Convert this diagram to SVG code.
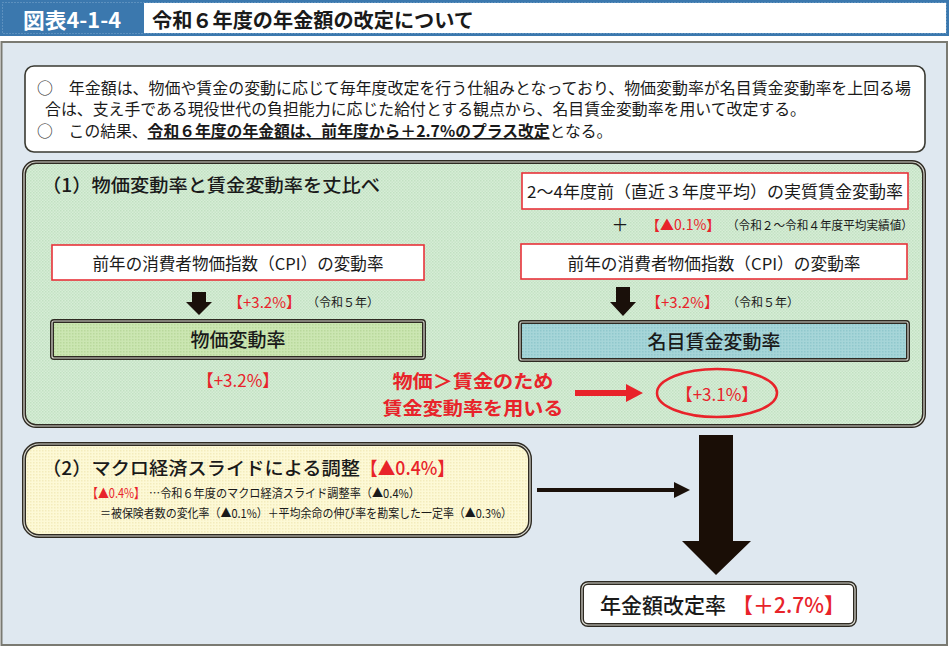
<svg xmlns="http://www.w3.org/2000/svg" width="949" height="647" viewBox="0 0 949 647">
<defs>
<style>
text{font-family:"Noto Sans CJK JP","Noto Sans",sans-serif;fill:#1a1a1a}
.red{fill:#e8232a}
.b{font-weight:bold}
.m{font-weight:500}
.whitebox{fill:#ffffff;stroke:#e8323a;stroke-width:1.6}
.dbl-out{fill:none;stroke:#2e2a22;stroke-width:4}
.dbl-in{fill:none;stroke:#d8d8d0;stroke-width:1.2}
</style>
<pattern id="pg" width="3" height="3" patternUnits="userSpaceOnUse">
<rect width="3" height="3" fill="#d6eed6"/>
<rect width="1.5" height="1.5" fill="#c2e0c2"/>
<rect x="1.5" y="1.5" width="1.5" height="1.5" fill="#c8e3c8"/>
</pattern>
<pattern id="py" width="3" height="3" patternUnits="userSpaceOnUse">
<rect width="3" height="3" fill="#fdf9d6"/>
<rect width="1.5" height="1.5" fill="#f3ecbc"/>
</pattern>
<pattern id="pgb" width="3" height="3" patternUnits="userSpaceOnUse">
<rect width="3" height="3" fill="#cbe6b2"/>
<rect width="1.5" height="1.5" fill="#b9d99c"/>
</pattern>
<pattern id="ptb" width="3" height="3" patternUnits="userSpaceOnUse">
<rect width="3" height="3" fill="#a6d5d8"/>
<rect width="1.5" height="1.5" fill="#90c8cc"/>
</pattern>
</defs>

<!-- header -->
<g id="header">
<rect x="0" y="0" width="949" height="36" fill="#3b78ae"/>
<rect x="2.5" y="2.5" width="944" height="31" fill="none" stroke="#7fa9cf" stroke-width="1" stroke-dasharray="1,2"/>
<rect x="144" y="3" width="802" height="30" fill="#ffffff"/>
<text x="23" y="27.5" font-size="21" class="b" style="fill:#ffffff" textLength="98" lengthAdjust="spacingAndGlyphs">図表4-1-4</text>
<text x="152" y="27.5" font-size="20" class="b" textLength="322" lengthAdjust="spacingAndGlyphs">令和６年度の年金額の改定について</text>
</g>

<!-- main panel -->
<rect x="1.5" y="42" width="945.5" height="603" fill="#dfe8f0" stroke="#7a7a72" stroke-width="2"/>

<!-- intro text box -->
<g id="intro">
<rect x="25" y="66" width="900" height="86" rx="9" fill="#ffffff" stroke="#3a3a32" stroke-width="1.6"/>
<text x="37" y="94" font-size="15.8" textLength="874" lengthAdjust="spacingAndGlyphs">○　年金額は、物価や賃金の変動に応じて毎年度改定を行う仕組みとなっており、物価変動率が名目賃金変動率を上回る場</text>
<text x="45" y="115" font-size="15.8" textLength="761" lengthAdjust="spacingAndGlyphs">合は、支え手である現役世代の負担能力に応じた給付とする観点から、名目賃金変動率を用いて改定する。</text>
<text x="37" y="137" font-size="15.8">○　この結果、<tspan class="b" text-decoration="underline">令和６年度の年金額は、前年度から＋2.7%のプラス改定</tspan>となる。</text>
</g>

<!-- section 1 -->
<g id="section1">
<rect x="24" y="162" width="900" height="264" rx="12" fill="url(#pg)"/>
<rect x="24" y="162" width="900" height="264" rx="12" class="dbl-out"/>
<rect x="24" y="162" width="900" height="264" rx="12" class="dbl-in"/>
<text x="42" y="192" font-size="18.5" class="m" textLength="338" lengthAdjust="spacingAndGlyphs">（1）物価変動率と賃金変動率を丈比べ</text>
</g>

<g id="cpi-left">
<rect x="52" y="245" width="372" height="35" class="whitebox"/>
<text x="238" y="270" font-size="16.5" text-anchor="middle" textLength="291" lengthAdjust="spacingAndGlyphs">前年の消費者物価指数（CPI）の変動率</text>
</g>
<g id="cpi-left-label">
<text x="228" y="307.5" font-size="15" class="red">【+3.2%】</text>
<text x="307" y="307" font-size="12">（令和５年）</text>
</g>
<g id="price-rate">
<rect x="52" y="321" width="372" height="37" rx="2" fill="url(#pgb)"/>
<rect x="52" y="321" width="372" height="37" rx="2" class="dbl-out" stroke-width="3"/>
<rect x="52" y="321" width="372" height="37" rx="2" class="dbl-in" stroke-width="0.8"/>
<text x="238" y="347" font-size="19" class="m" text-anchor="middle">物価変動率</text>
</g>
<g id="price-rate-value">
<text x="238" y="386.5" font-size="17" class="red" text-anchor="middle">【+3.2%】</text>
</g>

<g id="real-wage">
<rect x="522" y="173" width="386" height="36" class="whitebox"/>
<text x="715" y="198" font-size="16.5" text-anchor="middle" textLength="376" lengthAdjust="spacingAndGlyphs">2～4年度前（直近３年度平均）の実質賃金変動率</text>
</g>
<g id="real-wage-label">
<text x="620" y="231" font-size="17" text-anchor="middle">＋</text>
<text x="646" y="230" font-size="14" class="red">【▲0.1%】</text>
<text x="727" y="229.5" font-size="12" textLength="186" lengthAdjust="spacingAndGlyphs">（令和２～令和４年度平均実績値）</text>
</g>
<g id="cpi-right">
<rect x="521" y="244" width="386" height="35" class="whitebox"/>
<text x="714" y="270" font-size="16.5" text-anchor="middle" textLength="293" lengthAdjust="spacingAndGlyphs">前年の消費者物価指数（CPI）の変動率</text>
</g>
<g id="cpi-right-label">
<text x="646" y="307.5" font-size="15" class="red">【+3.2%】</text>
<text x="727" y="307" font-size="12">（令和５年）</text>
</g>
<g id="wage-rate">
<rect x="520" y="322" width="388" height="38" rx="2" fill="url(#ptb)"/>
<rect x="520" y="322" width="388" height="38" rx="2" class="dbl-out" stroke-width="3"/>
<rect x="520" y="322" width="388" height="38" rx="2" class="dbl-in" stroke-width="0.8"/>
<text x="714" y="349" font-size="19" class="m" text-anchor="middle">名目賃金変動率</text>
</g>
<g id="reason">
<text x="473" y="388" font-size="18.5" class="b red" text-anchor="middle" textLength="161" lengthAdjust="spacingAndGlyphs">物価＞賃金のため</text>
<text x="473" y="415" font-size="18.5" class="b red" text-anchor="middle" textLength="181" lengthAdjust="spacingAndGlyphs">賃金変動率を用いる</text>
</g>
<g id="wage-rate-value">
<ellipse cx="717" cy="393" rx="60" ry="24" fill="none" stroke="#e8232a" stroke-width="2.5"/>
<text x="717" y="401" font-size="17" class="red" text-anchor="middle">【+3.1%】</text>
</g>

<!-- section 2 -->
<g id="section2">
<rect x="24" y="444" width="506" height="92" rx="15" fill="url(#py)"/>
<rect x="24" y="444" width="506" height="92" rx="15" class="dbl-out"/>
<rect x="24" y="444" width="506" height="92" rx="15" class="dbl-in"/>
<text x="42" y="475" font-size="18.5" class="m"><tspan textLength="318" lengthAdjust="spacingAndGlyphs">（2）マクロ経済スライドによる調整</tspan><tspan class="red" textLength="95" lengthAdjust="spacingAndGlyphs">【▲0.4%】</tspan></text>
<text x="87" y="498" font-size="13" class="red" textLength="58" lengthAdjust="spacingAndGlyphs">【▲0.4%】</text>
<text x="149" y="498" font-size="12" textLength="271" lengthAdjust="spacingAndGlyphs">…令和６年度のマクロ経済スライド調整率（▲0.4%）</text>
<text x="100" y="518" font-size="12" textLength="412" lengthAdjust="spacingAndGlyphs">＝被保険者数の変化率（▲0.1%）＋平均余命の伸び率を勘案した一定率（▲0.3%）</text>
</g>

<!-- result -->
<g id="result">
<rect x="582" y="583" width="273" height="42" rx="6" fill="#ffffff"/>
<rect x="582" y="583" width="273" height="42" rx="6" class="dbl-out" stroke-width="3.5"/>
<rect x="582" y="583" width="273" height="42" rx="6" class="dbl-in" stroke="#f0f0f0" stroke-width="1"/>
<text x="600" y="613" font-size="21" class="m">年金額改定率<tspan class="red" dx="6">【＋2.7%】</tspan></text>
</g>

<!-- connectors -->
<g id="connectors">
<path d="M192,292 H206 V302 H212 L199,315 L186,302 H192 Z" fill="#1a100a"/>
<path d="M616,287 H630 V302 H636 L623,316 L610,302 H616 Z" fill="#1a100a"/>
<path d="M575,390 H626 V384 L643,393 L626,402 V396 H575 Z" fill="#e8232a"/>
<path d="M537,488 H674 V482 L690,490 L674,498 V492 H537 Z" fill="#1a100a"/>
<path d="M699,435 H733 V541 H751 L716,575 L682,541 H699 Z" fill="#1a0e06"/>
</g>
</svg>
